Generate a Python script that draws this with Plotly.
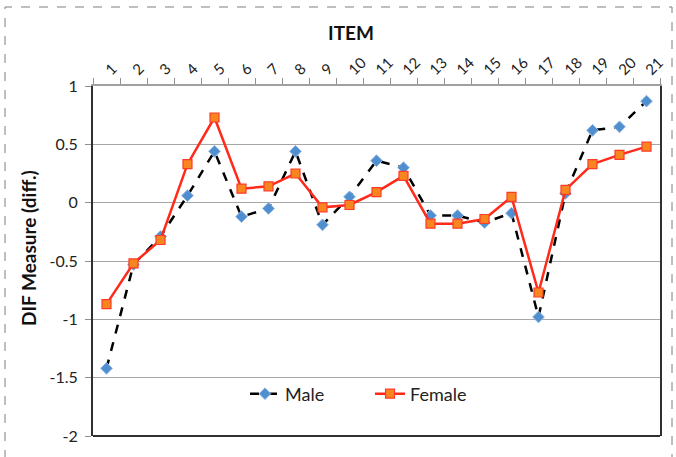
import plotly.graph_objects as go

items = [str(i) for i in range(1, 22)]
male = [-1.42, -0.53, -0.29, 0.06, 0.44, -0.12, -0.05, 0.44, -0.19, 0.05, 0.36,
        0.30, -0.11, -0.11, -0.17, -0.09, -0.98, 0.08, 0.62, 0.65, 0.87]
female = [-0.87, -0.52, -0.32, 0.33, 0.73, 0.12, 0.14, 0.25, -0.04, -0.02, 0.09,
          0.23, -0.18, -0.18, -0.14, 0.05, -0.77, 0.11, 0.33, 0.41, 0.48]
y_ticks = [1, 0.5, 0, -0.5, -1, -1.5, -2]

FONT = "Lato"
L, R, T, B = 93, 16, 86, 21
PW = 676 - L - R
PH = 457 - T - B

def px_x(x):
    return (x - L) / PW

def px_y(y):
    return (457 - B - y) / PH

fig = go.Figure()
fig.add_trace(go.Scatter(
    x=items, y=male, name="Male", mode="lines+markers",
    line=dict(color="black", width=2.5, dash="dash"),
    marker=dict(symbol="diamond", size=9, color="#4f8fd0",
                line=dict(color="#8db4e2", width=1)),
))
fig.add_trace(go.Scatter(
    x=items, y=female, name="Female", mode="lines+markers",
    line=dict(color="#ff2a1a", width=2.5),
    marker=dict(symbol="square", size=9, color="#f7861e",
                line=dict(color="#ff3a2a", width=1.2)),
))

fig.update_layout(
    width=676, height=457,
    margin=dict(l=L, r=R, t=T, b=B),
    paper_bgcolor="white", plot_bgcolor="white",
    font=dict(family=FONT, color="black"),
    showlegend=True,
    legend=dict(orientation="h", x=px_x(245), y=px_y(394), xanchor="left", yanchor="middle",
                font=dict(size=18, family=FONT, color="#222222"), bgcolor="rgba(0,0,0,0)",
                entrywidth=80, entrywidthmode="pixels", tracegroupgap=0),
    xaxis=dict(
        type="category", side="top", range=[-0.5, 20.5], automargin=False,
        tickangle=-45, tickfont=dict(size=15, family=FONT, color="#222222"),
        ticks="outside", ticklen=6, tickcolor="#909090", tickson="boundaries",
        showline=True, linecolor="#a0a0a0", linewidth=1.5, mirror=False,
        showgrid=False,
    ),
    yaxis=dict(
        range=[-2, 1], tickvals=y_ticks, ticktext=[str(v) for v in y_ticks],
        tickfont=dict(size=16, family=FONT, color="#222222"), automargin=False,
        ticks="outside", ticklen=6, tickcolor="#909090", ticklabelstandoff=4,
        showline=True, linecolor="#303030", linewidth=2, mirror=True,
        showgrid=True, gridcolor="#a6a6a6", gridwidth=1, zeroline=False,
    ),
    annotations=[
        dict(text="<b>ITEM</b>", xref="paper", yref="paper", x=px_x(351), y=px_y(33),
             xanchor="center", yanchor="middle", showarrow=False,
             font=dict(size=19, family=FONT, color="#111111")),
        dict(text="<b>DIF Measure (diff.)</b>", xref="paper", yref="paper",
             x=px_x(28), y=px_y(248), xanchor="center", yanchor="middle",
             textangle=-90, showarrow=False,
             font=dict(size=19, family=FONT, color="#111111")),
    ],
    shapes=[
        dict(type="line", xref="paper", yref="paper", x0=0, x1=1, y0=0, y1=0,
             line=dict(color="#303030", width=2)),
        dict(type="rect", xref="paper", yref="paper",
             x0=px_x(5), x1=px_x(672), y0=px_y(462), y1=px_y(7),
             line=dict(color="#7f7f7f", width=1, dash="dash"), layer="below"),
    ],
)

fig.write_html("out.html", config={"displayModeBar": False},
               post_script="document.body.style.margin='0';")
